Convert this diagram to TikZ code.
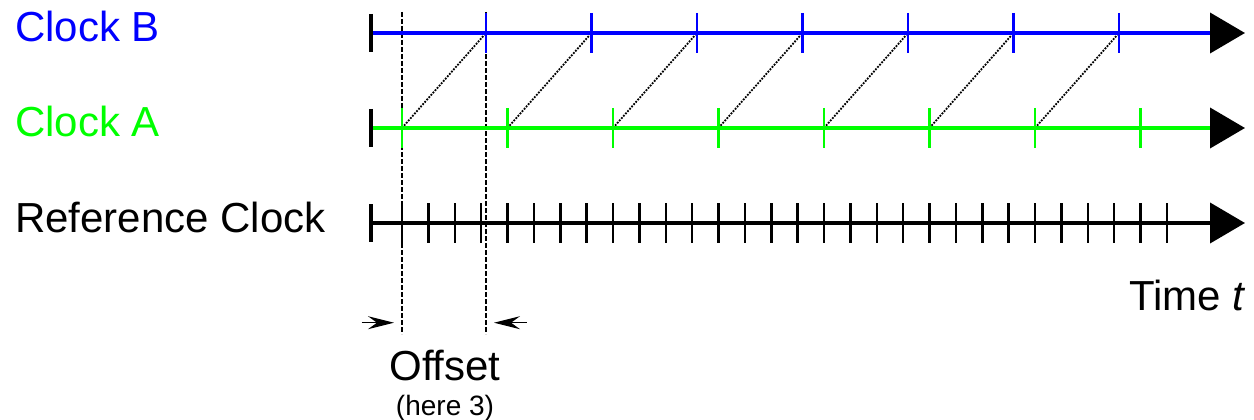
\documentclass[tikz,border=0pt]{standalone}
\usepackage{fontspec}
\setmainfont{Liberation Sans}
\usetikzlibrary{arrows.meta}
\definecolor{clkblue}{RGB}{0,0,255}
\definecolor{clkgreen}{RGB}{0,255,0}
\begin{document}
\begin{tikzpicture}[x=1pt,y=-1pt,
  axisline/.style={line width=4pt, -{Triangle[length=35pt,width=40pt,black]}},
  startbar/.style={line width=4pt},
  tickmark/.style={line width=2.5pt},
  guide/.style={line width=1.1pt, dash pattern=on 5pt off 2pt},
  sync/.style={line width=1.8pt, dash pattern=on 1.8pt off 1.3pt},
  biglabel/.style={inner sep=0pt, font=\fontsize{42}{48}\selectfont},
  offarrow/.style={line width=1.3pt, -{Stealth[length=26pt 0 0,width=13pt 0 0,inset=9pt 0 0]}}]
\useasboundingbox (0,0) rectangle (1254,420);

% axis coordinates
\coordinate (Bs) at (371,33);   \coordinate (Be) at (1245,33);
\coordinate (As) at (371,128);  \coordinate (Ae) at (1245,128);
\coordinate (Rs) at (371,223);  \coordinate (Re) at (1245,223);

% dashed guide lines
\coordinate (g1t) at (402,12);  \coordinate (g1b) at (402,334);
\coordinate (g2t) at (486,12);  \coordinate (g2b) at (486,334);
\draw[guide] (g1t) -- (g1b);
\draw[guide] (g2t) -- (g2b);

% dotted sync lines (green tick k -> blue tick k)
\foreach \k in {0,...,6}{
  \coordinate (a\k) at ({402+105.5*\k},128);
  \coordinate (b\k) at ({486+105.5*\k},33);
  \draw[sync] (a\k) -- (b\k);
}

% axes
\draw[axisline, draw=clkblue] (Bs) -- (Be);
\draw[axisline, draw=clkgreen] (As) -- (Ae);
\draw[axisline, draw=black] (Rs) -- (Re);

% start bars
\draw[startbar] (371,14) -- (371,52);
\draw[startbar] (371,109) -- (371,147);
\draw[startbar] (371,204) -- (371,242);

% blue ticks
\foreach \k in {0,...,6}{
  \draw[tickmark, clkblue] ({486+105.5*\k},13) -- ({486+105.5*\k},53);
}
% green ticks
\foreach \k in {0,...,7}{
  \draw[tickmark, clkgreen] ({402+105.5*\k},108) -- ({402+105.5*\k},148);
}
% reference ticks
\foreach \k in {0,...,29}{
  \draw[tickmark, black] ({402+26.375*\k},203) -- ({402+26.375*\k},243);
}

% labels
\node[biglabel, anchor=base west, text=clkblue] (lblB) at (15,41.7) {Clock B};
\node[biglabel, anchor=base west, text=clkgreen] (lblA) at (15,136.7) {Clock A};
\node[biglabel, anchor=base west] (lblR) at (15,232.3) {Reference Clock};
\node[biglabel, anchor=base east] (lblT) at (1246,310) {Time \textit{t}};

% offset
\coordinate (oL1) at (361.7,322.7); \coordinate (oL2) at (394,322.7);
\coordinate (oR1) at (526.7,322.7); \coordinate (oR2) at (494,322.7);
\draw[offarrow] (oL1) -- (oL2);
\draw[offarrow] (oR1) -- (oR2);
\node[biglabel, anchor=base] (off) at (445,380.7) {Offset};
\node[inner sep=0pt, anchor=base, font=\fontsize{28}{30}\selectfont] (here) at (445,415) {(here 3)};
\end{tikzpicture}
\end{document}
